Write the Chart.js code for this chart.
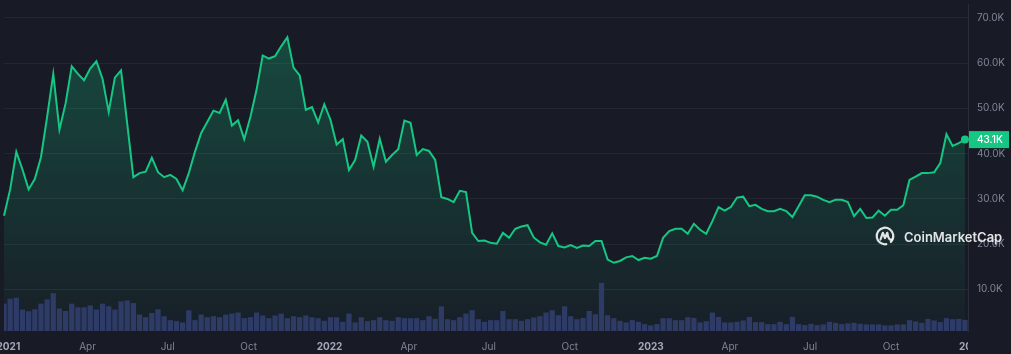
<!DOCTYPE html>
<html>
<head>
<meta charset="utf-8">
<script src="https://cdn.jsdelivr.net/npm/chart.js@4.4.0/dist/chart.umd.min.js"></script>
<style>
  html, body { margin: 0; padding: 0; background: #181a25; }
  #wrap { width: 1011px; height: 354px; position: relative; }
</style>
</head>
<body>
<div id="wrap"><canvas id="btc_price_Chart"></canvas></div>
<script>
// weekly closes, first week starts on this date
const firstWeek = '2020-12-27';

// price in thousands USD
const price = [
  26.3, 32.1, 40.4, 36.5, 32.1, 34.4, 39.2, 48.1, 57.6, 45.3,
  51.1, 59.3, 57.6, 56.2, 58.8, 60.4, 56.5, 49.2, 56.8, 58.4,
  46.7, 34.8, 35.7, 36.0, 39.1, 35.9, 34.8, 35.3, 34.4, 31.9,
  35.7, 40.4, 44.5, 47.0, 49.5, 49.0, 51.9, 46.2, 47.4, 43.2,
  48.1, 54.1, 61.7, 61.0, 61.5, 63.7, 65.7, 59.0, 57.3, 49.7,
  50.3, 46.9, 50.9, 47.5, 42.0, 43.2, 36.4, 38.6, 44.0, 42.6,
  37.1, 43.3, 38.2, 39.7, 41.0, 47.3, 46.8, 39.7, 41.0, 40.6,
  38.6, 30.4, 30.0, 29.3, 31.8, 31.5, 22.5, 20.7, 20.8, 20.3,
  20.1, 22.5, 21.4, 23.4, 23.9, 24.2, 21.5, 20.4, 19.9, 22.4,
  19.6, 19.3, 19.8, 19.2, 19.7, 19.6, 20.7, 20.7, 16.6, 15.9,
  16.3, 17.1, 17.4, 16.5, 17.0, 16.8, 17.4, 21.4, 22.9, 23.4,
  23.4, 22.3, 24.5, 23.2, 22.3, 25.1, 28.2, 27.4, 28.2, 30.3,
  30.5, 28.4, 28.7, 27.8, 27.3, 27.3, 27.8, 27.3, 26.0, 28.4,
  30.8, 30.8, 30.5, 29.8, 29.3, 29.8, 29.8, 29.3, 26.2, 27.8,
  25.8, 25.9, 27.4, 26.3, 27.6, 27.6, 28.6, 34.2, 34.9, 35.7,
  35.7, 35.9, 37.9, 44.3, 41.7, 42.3, 43.1
];

// weekly volume in billions USD
const volume = [
  277, 327, 337, 217, 200, 220, 277, 320, 383, 227,
  203, 277, 240, 240, 260, 217, 277, 250, 217, 300,
  310, 283, 167, 140, 183, 220, 150, 110, 100, 87,
  210, 110, 167, 140, 150, 140, 167, 177, 187, 130,
  140, 187, 157, 130, 157, 177, 130, 150, 140, 157,
  140, 130, 103, 140, 140, 93, 177,
  87, 140, 100, 110, 140, 110, 103, 140, 130, 130,
  130, 110, 150, 123, 250, 120, 110, 140, 177, 210,
  120, 93, 110, 110, 203, 120, 120, 103, 120, 137,
  150, 187, 210, 160, 250, 150, 120, 133, 203, 170,
  487, 160, 130, 103, 87, 110, 93, 70, 57, 70,
  130, 130, 110, 110, 140, 133, 87,
  100, 187, 143, 87, 87, 93, 107, 143, 90, 90,
  70, 70, 93, 70, 143, 70, 60, 73, 60, 67,
  93, 83, 70, 77, 83, 73, 67, 67, 67, 57,
  57, 67, 67, 110, 97, 83, 123, 107, 90, 130,
  120, 123, 113
];

const tickDates = [
  '2021-01-01', '2021-04-01', '2021-07-01', '2021-10-01',
  '2022-01-01', '2022-04-01', '2022-07-01', '2022-10-01',
  '2023-01-01', '2023-04-01', '2023-07-01', '2023-10-01',
  '2024-01-01'
];
const tickLabels = ['2021', 'Apr', 'Jul', 'Oct', '2022', 'Apr', 'Jul', 'Oct', '2023', 'Apr', 'Jul', 'Oct', '2024'];
const priceTicks = [10, 20, 30, 40, 50, 60, 70];

const bg = '#181a25';
const green = '#16c784';

function weekIndex(d) {
  return (Date.parse(d + 'T00:00:00Z') - Date.parse(firstWeek + 'T00:00:00Z')) / (7 * 86400000);
}
function isYear(i) {
  return /^\d{4}$/.test(tickLabels[i]);
}

Chart.defaults.font.family = 'Inter';

const cmcExtras = {
  id: 'cmcExtras',
  afterDraw: function(chart) {
    const ctx = chart.ctx;
    const area = chart.chartArea;
    ctx.save();
    // axis panel hides the part of the last date label that runs past the plot
    ctx.fillStyle = bg;
    ctx.fillRect(area.right, area.bottom + 1, chart.width - area.right, chart.height - area.bottom);

    // last price tag
    const last = price[price.length - 1];
    const py = chart.scales.y.getPixelForValue(last);
    ctx.fillStyle = green;
    ctx.fillRect(area.right + 1, py - 8.5, 40, 17);
    ctx.fillStyle = '#ffffff';
    ctx.font = '500 10px Inter';
    ctx.textAlign = 'left';
    ctx.textBaseline = 'middle';
    ctx.fillText(last.toFixed(1) + 'K', area.right + 9, py + 0.5);

    // watermark
    const cx = 885, cy = 236;
    ctx.strokeStyle = 'rgba(255,255,255,0.88)';
    ctx.lineWidth = 2.2;
    ctx.lineCap = 'round';
    ctx.lineJoin = 'round';
    ctx.beginPath();
    ctx.arc(cx, cy, 8.3, 0.45 * Math.PI, 2.25 * Math.PI);
    ctx.stroke();
    ctx.beginPath();
    ctx.moveTo(cx - 4.5, cy + 3.5);
    ctx.lineTo(cx - 2.2, cy - 3.2);
    ctx.lineTo(cx, cy + 2);
    ctx.lineTo(cx + 2.3, cy - 3.2);
    ctx.quadraticCurveTo(cx + 3.5, cy + 5, cx + 7, cy + 3.5);
    ctx.stroke();
    ctx.fillStyle = 'rgba(255,255,255,0.88)';
    ctx.font = '600 13px Inter';
    ctx.textBaseline = 'alphabetic';
    ctx.fillText('CoinMarketCap', 904, 242);
    ctx.restore();
  }
};

const last = price.length - 1;

new Chart(document.getElementById('btc_price_Chart'), {
  data: {
    datasets: [{
      type: 'bar',
      label: 'Volume',
      data: volume.map(function(v, i) { return {x: i, y: v}; }),
      yAxisID: 'y2',
      backgroundColor: '#2d3b66',
      barPercentage: 0.86,
      categoryPercentage: 1,
      order: 0
    }, {
      type: 'line',
      label: 'Price',
      data: price.map(function(v, i) { return {x: i, y: v}; }),
      yAxisID: 'y',
      borderColor: green,
      borderWidth: 2,
      tension: 0,
      fill: 'start',
      backgroundColor: function(context) {
        const area = context.chart.chartArea;
        if (!area) return 'rgba(22,199,132,0.15)';
        const g = context.chart.ctx.createLinearGradient(0, area.top, 0, area.bottom);
        g.addColorStop(0, 'rgba(22,199,132,0.30)');
        g.addColorStop(1, 'rgba(22,199,132,0.03)');
        return g;
      },
      pointRadius: function(c) { return c.dataIndex === last ? 4 : 0; },
      pointBackgroundColor: green,
      pointBorderWidth: 0,
      clip: 8,
      order: 1
    }]
  },
  options: {
    responsive: true,
    maintainAspectRatio: false,
    animation: false,
    layout: { padding: 0 },
    plugins: { legend: { display: false }, tooltip: { enabled: false } },
    scales: {
      x: {
        type: 'linear',
        min: 0,
        max: last + 0.5,
        offset: false,
        grid: { display: false },
        border: { display: false },
        afterBuildTicks: function(axis) {
          axis.ticks = tickDates.map(function(d) { return {value: weekIndex(d)}; });
        },
        ticks: {
          autoSkip: false,
          maxRotation: 0,
          padding: 2,
          callback: function(value, index) { return tickLabels[index]; },
          color: function(c) { return isYear(c.index) ? '#a3a9bb' : '#7f8597'; },
          font: function(c) { return {family: 'Inter', size: 10, weight: isYear(c.index) ? '700' : '400'}; }
        },
        afterFit: function(axis) {
          axis.height = 23;
          axis.paddingLeft = 0;
          axis.paddingRight = 0;
        }
      },
      y: {
        type: 'linear',
        position: 'right',
        min: 0.83,
        max: 73.05,
        grid: { color: '#242733', drawTicks: false },
        border: { display: true, color: '#2a2d3a' },
        afterBuildTicks: function(axis) {
          axis.ticks = priceTicks.map(function(v) { return {value: v}; });
        },
        ticks: {
          padding: 9,
          color: '#7f8597',
          font: { size: 10 },
          callback: function(v) { return v.toFixed(1) + 'K'; }
        },
        afterFit: function(axis) {
          axis.width = 43;
          axis.paddingTop = 0;
          axis.paddingBottom = 0;
        }
      },
      y2: {
        type: 'linear',
        display: false,
        min: 0,
        max: 3310
      }
    }
  },
  plugins: [cmcExtras]
});
</script>
</body>
</html>
